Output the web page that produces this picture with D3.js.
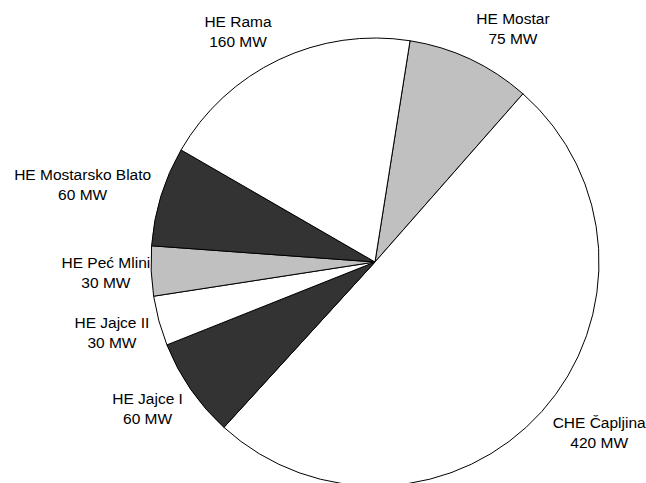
<!DOCTYPE html>
<html>
<head>
<meta charset="utf-8">
<script src="https://cdn.jsdelivr.net/npm/d3@7"></script>
<style>
  body { margin: 0; background: #fff; }
  text { font-family: "Liberation Sans", Arial, sans-serif; font-size: 15.5px; fill: #000; }
</style>
</head>
<body>
<div id="viz"></div>
<script>
// data
var plants = ["HE Mostar", "CHE Čapljina", "HE Jajce I", "HE Jajce II", "HE Peć Mlini", "HE Mostarsko Blato", "HE Rama"];
var power = [75, 420, 60, 30, 30, 60, 160];
var fills = ["#c0c0c0", "#ffffff", "#333333", "#ffffff", "#c0c0c0", "#333333", "#ffffff"];

var width = 646, height = 483;
var cx = 375, cy = 262, r = 224;
var startDeg = 9;

// hand nudges so labels sit where the original put them
var labelShift = [[25, -8], [19, 5], [-10, 5], [-6, 5], [4, 1], [-8, -4], [-24, -5]];

var svg = d3.select("#viz").append("svg").attr("width", width).attr("height", height);

var pie = d3.pie()
    .sort(null)
    .value(function(d) { return d; })
    .startAngle(startDeg * Math.PI / 180)
    .endAngle(startDeg * Math.PI / 180 + 2 * Math.PI);

var arc = d3.arc().innerRadius(0).outerRadius(r);

var arcs = pie(power);

var g = svg.append("g").attr("transform", "translate(" + cx + "," + cy + ")");

g.selectAll("path")
  .data(arcs)
  .enter().append("path")
    .attr("d", arc)
    .style("fill", function(d, i) { return fills[i]; })
    .style("stroke", "#000")
    .style("stroke-width", 1)
    .style("stroke-linejoin", "round");

var lbl = g.selectAll("text.lbl")
  .data(arcs)
  .enter().append("text")
    .attr("class", "lbl")
    .attr("text-anchor", "middle");

lbl.append("tspan").attr("class", "l1").text(function(d, i) { return plants[i]; });
lbl.append("tspan").attr("class", "l2").text(function(d) { return d.value + " MW"; });

lbl.each(function(d, i) {
  var t = d3.select(this);
  var w = d3.max([t.select(".l1").node().getComputedTextLength(), t.select(".l2").node().getComputedTextLength()]);
  var a = (d.startAngle + d.endAngle) / 2;
  var px = Math.sin(a) * (r + 5), py = -Math.cos(a) * (r + 5);
  var x = px + Math.sin(a) * w / 2 + labelShift[i][0];
  var y = py - Math.cos(a) * 20 + labelShift[i][1];
  t.select(".l1").attr("x", x).attr("y", y - 5);
  t.select(".l2").attr("x", x).attr("y", y + 15);
});
</script>
</body>
</html>
